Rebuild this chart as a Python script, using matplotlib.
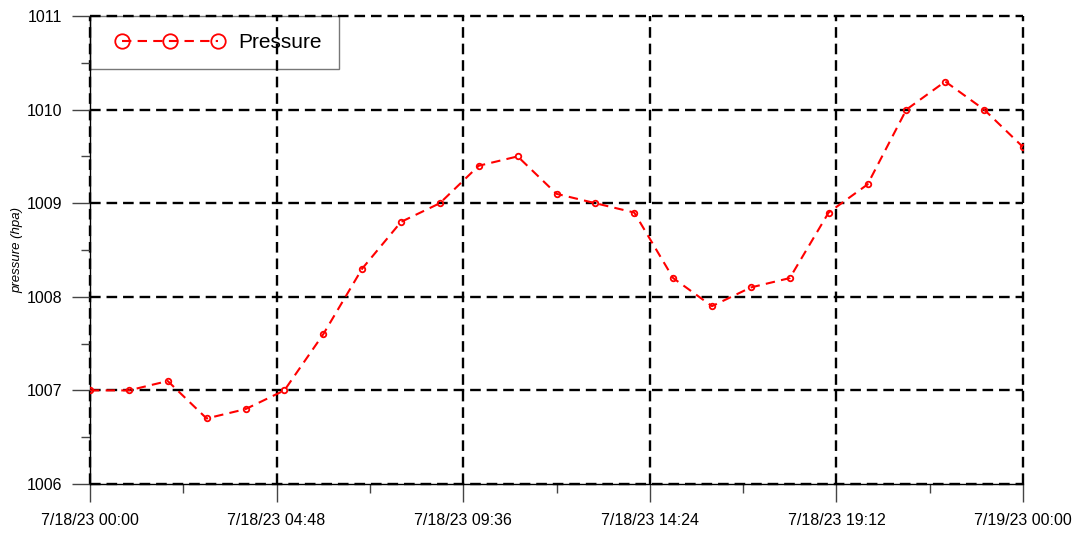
import datetime as dt
import matplotlib
matplotlib.use("Agg")
import matplotlib.pyplot as plt
import matplotlib.dates as mdates
from matplotlib.ticker import FixedLocator, MultipleLocator, FuncFormatter
from matplotlib.legend_handler import HandlerLine2D

# données : pression horaire
START = dt.datetime(2023, 7, 18, 0, 0)
hours = list(range(25))
pressure = [1007.0, 1007.0, 1007.1, 1006.7, 1006.8, 1007.0, 1007.6, 1008.3,
            1008.8, 1009.0, 1009.4, 1009.5, 1009.1, 1009.0, 1008.9, 1008.2,
            1007.9, 1008.1, 1008.2, 1008.9, 1009.2, 1010.0, 1010.3, 1010.0,
            1009.6]
y_ticks = [1006, 1007, 1008, 1009, 1010, 1011]

plt.rcParams["font.family"] = ["Liberation Sans", "DejaVu Sans"]

times = [START + dt.timedelta(hours=h) for h in hours]
t0 = mdates.date2num(START)

fig = plt.figure(figsize=(10.79, 5.36), dpi=100)
ax = fig.add_axes([90 / 1079, 1 - 484 / 536, (1023 - 90) / 1079, (484 - 16) / 536])

line, = ax.plot(times, pressure, color="red", linestyle=(0, (4.5, 3)), linewidth=1.5,
                marker="o", markersize=4, markerfacecolor="none",
                markeredgecolor="red", markeredgewidth=1.3, label="Pressure", zorder=3)

ax.set_xlim(t0, t0 + 1.0)
ax.set_ylim(1006, 1011)

major = [t0 + 0.2 * k for k in range(6)]
minor = [t0 + 0.1 + 0.2 * k for k in range(5)]
ax.xaxis.set_major_locator(FixedLocator(major))
ax.xaxis.set_minor_locator(FixedLocator(minor))


def fmt_date(x, pos):
    d = mdates.num2date(x)
    return f"{d.month}/{d.day}/{d:%y} {d:%H:%M}"


ax.xaxis.set_major_formatter(FuncFormatter(fmt_date))
ax.yaxis.set_major_locator(FixedLocator(y_ticks))
ax.yaxis.set_minor_locator(MultipleLocator(0.5))

ax.tick_params(which="major", direction="out", length=13, width=1, color="#444444",
               labelsize=11.5, pad=7)
ax.tick_params(which="minor", direction="out", length=6.5, width=1, color="#444444")
ax.tick_params(axis="x", which="major", pad=8)

ax.grid(True, which="major", color="black", linestyle=(0, (4.5, 2.5)), linewidth=1.7)
for gl in ax.get_xgridlines() + ax.get_ygridlines():
    gl.set_clip_on(False)

for side in ["top", "right"]:
    ax.spines[side].set_visible(False)
for side in ["left", "bottom"]:
    ax.spines[side].set_linewidth(1.0)
    ax.spines[side].set_zorder(2.5)

fig.text(17 / 1079, 1 - 250 / 536, "pressure (hpa)", rotation=90, fontstyle="italic",
         fontsize=9.5, ha="center", va="center")

# légende : 3 marqueurs, cadre gris sans fond
leg = ax.legend(loc="upper left", markerscale=2.6, handlelength=6.07,
                handler_map={line: HandlerLine2D(numpoints=3, marker_pad=0.73)},
                fontsize=15, fancybox=False, borderaxespad=0, borderpad=0.81,
                handletextpad=0.24)
leg.get_frame().set_facecolor("none")
leg.get_frame().set_edgecolor("#555555")
leg.get_frame().set_linewidth(1.0)
leg.set_zorder(1)

fig.savefig("out.png", dpi=100)
